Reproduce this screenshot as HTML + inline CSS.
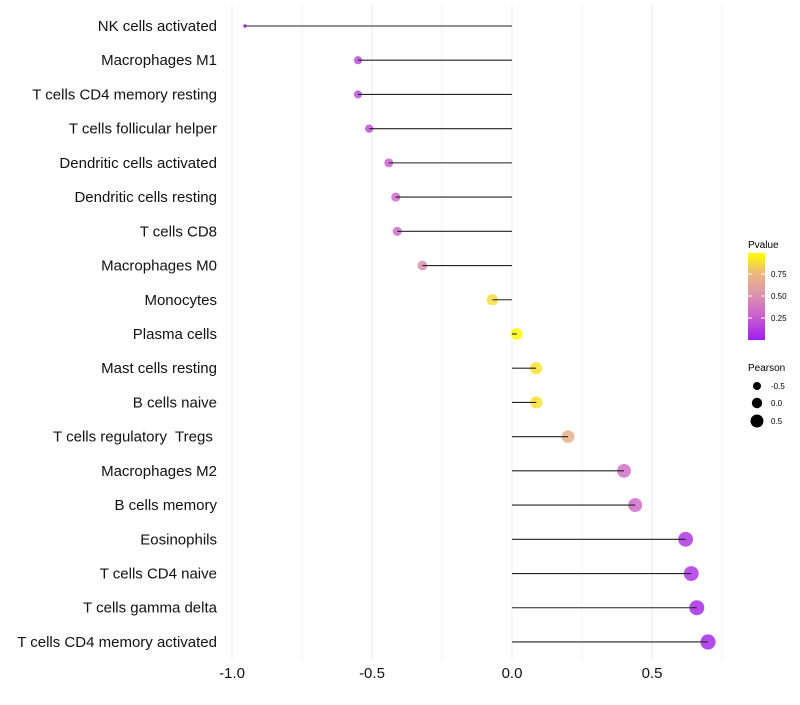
<!DOCTYPE html>
<html><head><meta charset="utf-8"><style>
body{margin:0;background:#fff;font-family:"Liberation Sans",sans-serif}
text{white-space:pre}
</style></head><body>
<svg id="chart" width="800" height="700" xmlns="http://www.w3.org/2000/svg">
<defs><linearGradient id="pg" x1="0" y1="1" x2="0" y2="0">
<stop offset="0" stop-color="#a01ef0"/><stop offset="0.3" stop-color="#cc66cc"/><stop offset="0.55" stop-color="#dd99aa"/><stop offset="0.78" stop-color="#eebb77"/><stop offset="1" stop-color="#ffff00"/>
</linearGradient></defs>
<g id="grid"></g><g id="marks"></g><g id="labels"></g>
<g>
<text x="748" y="248" font-size="10">Pvalue</text>
<rect x="748" y="253" width="17" height="87" fill="url(#pg)"/>
<line x1="748" x2="752" y1="274" y2="274" stroke="#fff"/><line x1="761" x2="765" y1="274" y2="274" stroke="#fff"/>
<line x1="748" x2="752" y1="296" y2="296" stroke="#fff"/><line x1="761" x2="765" y1="296" y2="296" stroke="#fff"/>
<line x1="748" x2="752" y1="318" y2="318" stroke="#fff"/><line x1="761" x2="765" y1="318" y2="318" stroke="#fff"/>
<text x="771" y="277" font-size="8">0.75</text><text x="771" y="299" font-size="8">0.50</text><text x="771" y="321" font-size="8">0.25</text>
</g>
<g>
<text x="748" y="371" font-size="10">Pearson</text>
<circle cx="757" cy="386" r="4"/><text x="771" y="389" font-size="8">-0.5</text>
<circle cx="757" cy="403" r="5.2"/><text x="771" y="406" font-size="8">0.0</text>
<circle cx="757" cy="421" r="6.5"/><text x="771" y="424" font-size="8">0.5</text>
</g>
</svg>
<script>
const categories=["NK cells activated","Macrophages M1","T cells CD4 memory resting","T cells follicular helper","Dendritic cells activated","Dendritic cells resting","T cells CD8","Macrophages M0","Monocytes","Plasma cells","Mast cells resting","B cells naive","T cells regulatory  Tregs ","Macrophages M2","B cells memory","Eosinophils","T cells CD4 naive","T cells gamma delta","T cells CD4 memory activated"];
const pearson=[-0.954,-0.55,-0.55,-0.51,-0.44,-0.415,-0.41,-0.32,-0.07,0.017,0.086,0.087,0.2,0.40,0.44,0.62,0.64,0.66,0.70];
const pvalue=[0.0,0.2,0.2,0.22,0.28,0.33,0.33,0.5,0.88,0.98,0.9,0.9,0.7,0.35,0.33,0.1,0.1,0.06,0.05];
const xTicks=[-1.0,-0.5,0.0,0.5];
const xTickLabels=["-1.0","-0.5","0.0","0.5"];
const NS="http://www.w3.org/2000/svg";
const xs=v=>512+v*280;
const ys=i=>26+i*34.22;
function col(p){const st=[[0,[160,30,240]],[0.3,[204,102,204]],[0.55,[221,153,170]],[0.78,[238,187,119]],[1,[255,255,0]]];
for(let k=1;k<st.length;k++){if(p<=st[k][0]){const a=st[k-1],b=st[k],t=(p-a[0])/(b[0]-a[0]);return `rgb(${a[1].map((c,j)=>Math.round(c+(b[1][j]-c)*t)).join(',')})`;}}return 'rgb(255,255,0)';}
const rad=v=>Math.sqrt(3+33*(v+0.954));
function mk(t,a,p){const e=document.createElementNS(NS,t);for(const k in a)e.setAttribute(k,a[k]);p.appendChild(e);return e;}
const grid=document.getElementById('grid'),marks=document.getElementById('marks'),labels=document.getElementById('labels');
for(let v=-1;v<=0.76;v+=0.25){const g=mk('line',{x1:xs(v),x2:xs(v),y1:5,y2:660,stroke:'#ebebeb','stroke-width':Math.abs(v*2-Math.round(v*2))<0.01?1:0.6},grid);

}
xTicks.forEach((v,i)=>{const t=mk('text',{x:xs(v),y:678,'font-size':15,'text-anchor':'middle',fill:'#111'},labels);t.textContent=xTickLabels[i];

});
categories.forEach((c,i)=>{const y=ys(i);
const t=mk('text',{x:217,y:y+5,'font-size':15,'text-anchor':'end',fill:'#111'},labels);t.textContent=c;


const d=mk('circle',{cx:xs(pearson[i]),cy:y,r:rad(pearson[i]),fill:col(pvalue[i]),'fill-opacity':0.85},marks);


const l=mk('line',{x1:xs(0),x2:xs(pearson[i]),y1:y,y2:y,stroke:'#222','stroke-width':1.1},marks);

});
</script>
</body></html>
